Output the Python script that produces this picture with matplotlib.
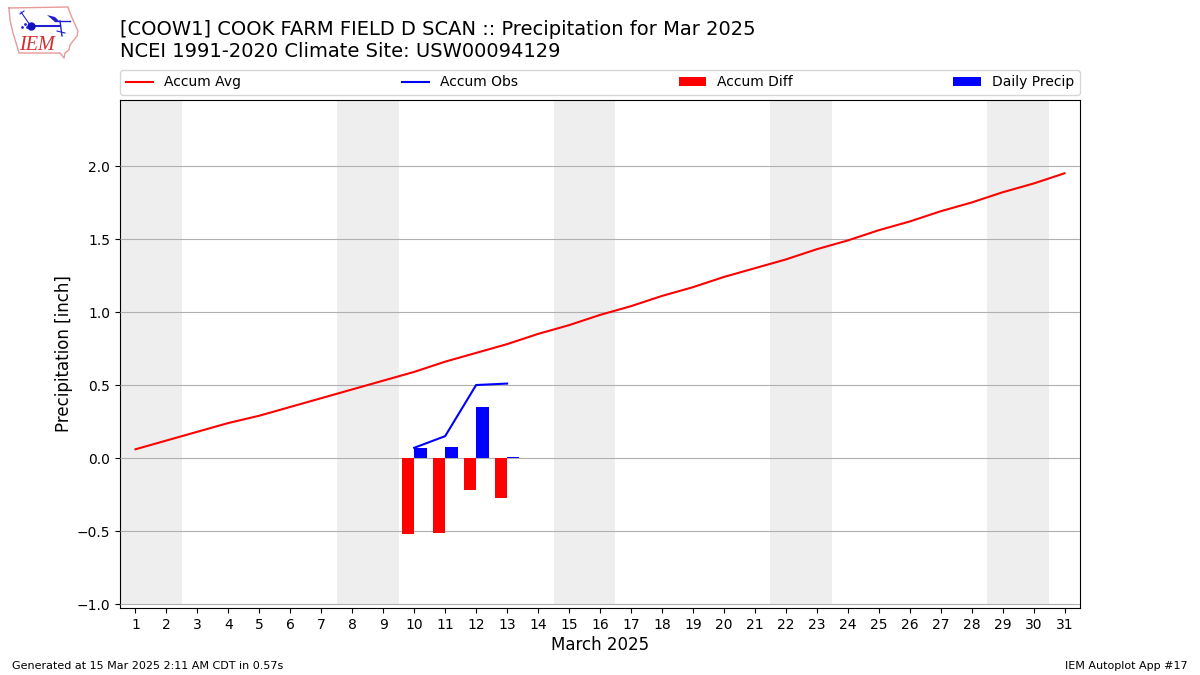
import matplotlib
matplotlib.use("Agg")
import matplotlib.pyplot as plt

days = list(range(1, 32))
accum_avg = [0.06, 0.12, 0.18, 0.24, 0.29, 0.35, 0.41, 0.47, 0.53, 0.59, 0.66,
             0.72, 0.78, 0.85, 0.91, 0.98, 1.04, 1.11, 1.17, 1.24, 1.30, 1.36,
             1.43, 1.49, 1.56, 1.62, 1.69, 1.75, 1.82, 1.88, 1.95]
obs_days = [10, 11, 12, 13]
accum_obs = [0.07, 0.15, 0.50, 0.51]
accum_diff = [-0.52, -0.51, -0.22, -0.275]
daily_precip = [0.07, 0.075, 0.35, 0.01]
weekends = [(0.5, 2.5), (7.5, 9.5), (14.5, 16.5), (21.5, 23.5), (28.5, 30.5)]

title = ("[COOW1] COOK FARM FIELD D SCAN :: Precipitation for Mar 2025\n"
         "NCEI 1991-2020 Climate Site: USW00094129")

fig = plt.figure(figsize=(12, 6.75), dpi=100)
ax = fig.add_axes([120 / 1200, 1 - 608 / 675, 960 / 1200, 508 / 675])

y_lo, y_hi = -1.027, 2.452
shade_from = (-1.0 - y_lo) / (y_hi - y_lo)
for lo, hi in weekends:
    ax.axvspan(lo, hi, ymin=shade_from, ymax=1, color="#eeeeee", lw=0, zorder=1)

ax.plot(days, accum_avg, color="r", lw=1.5, label="Accum Avg", zorder=3)
ax.plot(obs_days, accum_obs, color="b", lw=1.5, label="Accum Obs", zorder=3)
ax.bar(obs_days, accum_diff, width=-0.4, align="edge", color="r",
       label="Accum Diff", zorder=3)
ax.bar(obs_days, daily_precip, width=0.4, align="edge", color="b",
       label="Daily Precip", zorder=3)

ax.set_xlim(0.5, 31.5)
ax.set_ylim(y_lo, y_hi)
ax.set_xticks(days)
ax.set_yticks([-1.0, -0.5, 0.0, 0.5, 1.0, 1.5, 2.0])
ax.yaxis.grid(True, color="#b0b0b0", lw=0.8, zorder=2)
ax.set_axisbelow(False)
ax.tick_params(labelsize=10)
ax.set_xlabel("March 2025", fontsize=12, labelpad=3)
ax.set_ylabel("Precipitation [inch]", fontsize=12, labelpad=2.5)

ax.legend(loc="lower left", bbox_to_anchor=(0, 1.01, 1, 0.102), ncol=4,
          mode="expand", borderaxespad=0, fontsize=10)

fig.text(120 / 1200, 1 - 61 / 675, title, fontsize=14, ha="left", va="bottom",
         linespacing=1.2)
fig.text(12 / 1200, 1 - 666 / 675, "Generated at 15 Mar 2025 2:11 AM CDT in 0.57s",
         fontsize=8, ha="left", va="center")
fig.text(1188 / 1200, 1 - 666 / 675, "IEM Autoplot App #17",
         fontsize=8, ha="right", va="center")

# IEM logo, drawn in pixel coordinates of the figure
logo = fig.add_axes([0, 1 - 60 / 675, 85 / 1200, 60 / 675])
logo.set_xlim(0, 85)
logo.set_ylim(60, 0)
logo.axis("off")
outline_x = [9, 68, 70, 73, 78, 77, 73, 70, 69, 65, 64, 60, 19, 17, 13, 10, 9]
outline_y = [8, 7, 13, 20, 31, 36, 41, 45, 50, 53, 58, 53, 53, 46, 33, 20, 8]
logo.plot(outline_x, outline_y, color="#e79a9a", lw=1)
logo.plot([30, 60], [26, 26], color="#2020d0", lw=1.5)
logo.plot([31], [26], "o", color="#1010c0", ms=5)
logo.fill([47, 55, 59, 55], [15, 17, 21, 22], color="#2020d0", lw=0)
logo.plot([55, 70], [21, 21], color="#2020d0", lw=1)
logo.plot([60, 62], [21, 36], color="#2020d0", lw=1)
logo.plot([57, 65], [31, 33], color="#2020d0", lw=0.8)
logo.plot([21, 30], [12, 25], color="#2020d0", lw=0.8)
logo.plot([20, 24], [14, 11], color="#2020d0", lw=0.8)
logo.plot([22, 25, 27], [27, 24, 27], ".", color="#2020d0", ms=2)
logo.text(37, 45, "IEM", color="#d62c2c", fontsize=14.5, style="italic",
          family="Liberation Serif", ha="center", va="center")

fig.savefig("out.png", dpi=100)
